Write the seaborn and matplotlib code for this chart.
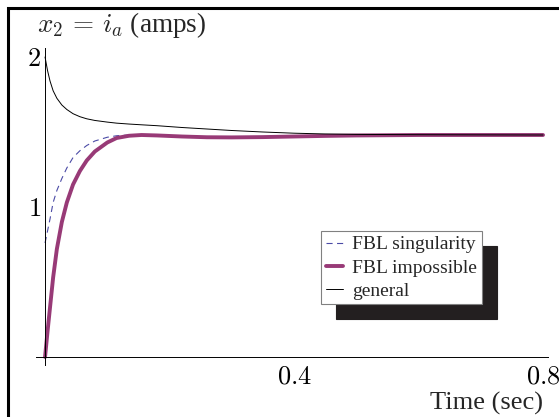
import matplotlib
matplotlib.use("Agg")
import matplotlib.pyplot as plt
import seaborn as sns
from matplotlib.patches import Rectangle

# time samples (sec)
time_s = [0, 0.004, 0.008, 0.013, 0.019, 0.027, 0.035, 0.045, 0.056, 0.067,
          0.08, 0.1, 0.115, 0.135, 0.155, 0.18, 0.22, 0.26, 0.3, 0.35,
          0.4, 0.45, 0.5, 0.6, 0.7, 0.8]

# x2 = i_a (amps) for each controller
i_singularity = [0.76, 0.84, 0.92, 1.03, 1.11, 1.19, 1.26, 1.33, 1.375, 1.41,
                 1.44, 1.465, 1.475, 1.48, 1.482, 1.478, 1.471, 1.466, 1.465, 1.467,
                 1.47, 1.474, 1.477, 1.48, 1.48, 1.48]
i_impossible = [0.0, 0.17, 0.33, 0.53, 0.72, 0.90, 1.03, 1.15, 1.24, 1.31,
                1.37, 1.43, 1.46, 1.475, 1.48, 1.477, 1.47, 1.465, 1.464, 1.466,
                1.47, 1.474, 1.477, 1.48, 1.48, 1.48]
i_general = [2.0, 1.91, 1.84, 1.775, 1.725, 1.68, 1.65, 1.622, 1.602, 1.588,
             1.577, 1.566, 1.559, 1.553, 1.548, 1.542, 1.53, 1.52, 1.51, 1.50,
             1.492, 1.487, 1.484, 1.482, 1.481, 1.48]

x_ticks = [0.4, 0.8]
x_tick_labels = ["0.4", "0.8"]
y_ticks = [1, 2]
y_tick_labels = ["1", "2"]

sns.set_style("white")
plt.rcParams["font.family"] = ["Liberation Serif", "DejaVu Serif"]
plt.rcParams["mathtext.fontset"] = "cm"

W, H = 559, 417
fig = plt.figure(figsize=(W / 100, H / 100), dpi=100)

# axes placed so that t=0 -> 45px, t=0.8 -> 543px, i=0 -> 357px, i=2 -> 57px
ax = fig.add_axes([35.7 / W, (H - 364.5) / H, (548 - 35.7) / W, (364.5 - 48) / H])
ax.set_xlim(-0.015, 0.808)
ax.set_ylim(-0.05, 2.06)

sns.lineplot(x=time_s, y=i_singularity, ax=ax, color="#4b4ba6", lw=0.8,
             linestyle=(0, (5.5, 4)), label="FBL singularity")
sns.lineplot(x=time_s, y=i_impossible, ax=ax, color="#983a77", lw=2.8,
             label="FBL impossible")
sns.lineplot(x=time_s, y=i_general, ax=ax, color="black", lw=0.7,
             label="general")

# axis lines through the origin
for side in ["top", "right"]:
    ax.spines[side].set_visible(False)
ax.spines["left"].set_position(("data", 0))
ax.spines["bottom"].set_position(("data", 0))
for side in ["left", "bottom"]:
    ax.spines[side].set_linewidth(0.7)
    ax.spines[side].set_color("black")
ax.patch.set_alpha(0)

ax.set_xticks(x_ticks)
ax.set_xticklabels(["$" + s + "$" for s in x_tick_labels])
ax.set_yticks(y_ticks)
ax.set_yticklabels(["$" + s + "$" for s in y_tick_labels])
ax.tick_params(axis="both", direction="in", length=6, width=0.6, colors="black",
               labelsize=19)
ax.tick_params(axis="x", pad=7)
ax.tick_params(axis="y", pad=3)

fig.text(37 / W, 1 - 25 / H, r"$x_2\,=\,i_a$ (amps)", ha="left", va="center",
         fontsize=19.5)
fig.text(543 / W, 1 - 403 / H, "Time (sec)", ha="right", va="center",
         fontsize=19)

leg = ax.legend(loc="upper left", bbox_to_anchor=(321 / W, 1 - 231 / H),
                bbox_transform=fig.transFigure, borderaxespad=0,
                fontsize=14, handlelength=0.9, handletextpad=0.45,
                labelspacing=0.28, borderpad=0.25, fancybox=False,
                framealpha=1,
                shadow={"ox": 10.8, "oy": -10.8, "color": "#231f20", "alpha": 1})
leg.get_frame().set_edgecolor("#808080")
leg.get_frame().set_linewidth(0.8)

# page frame (cropped on the right and bottom)
fig.patches.append(Rectangle((7.5 / W, -0.1), 1.2, 1 - 7.5 / H + 0.1,
                             transform=fig.transFigure, fill=False,
                             edgecolor="black", lw=2.2, clip_on=False))

fig.savefig("out.png", dpi=100)
